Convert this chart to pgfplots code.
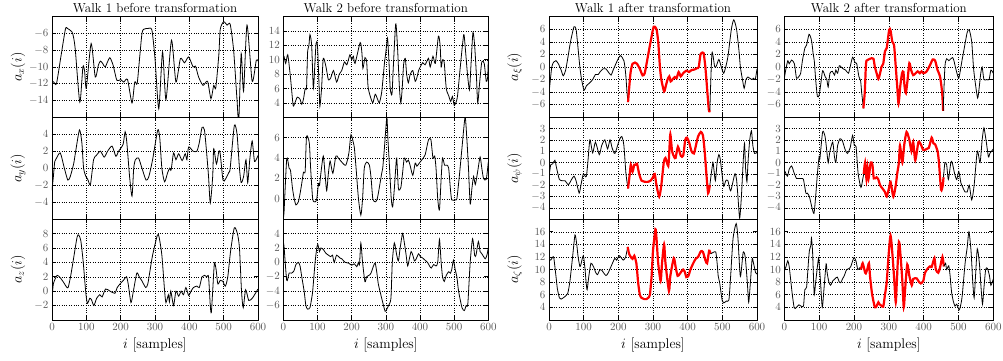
\documentclass[border=0pt]{standalone}
\usepackage{pgfplots}
\pgfplotsset{compat=1.18}
\pgfplotsset{
 panel/.style={scale only axis, xmin=0, xmax=600, xtick={0,100,...,600},
   grid=major, grid style={black, dotted, line width=0.5pt},
   tick align=inside, major tick length=4pt,
   axis line style={line width=0.7pt}, tick style={black, line width=0.6pt},
   tick label style={font=\fontsize{11}{13}\selectfont, color=black!65},
   every axis y label/.style={at={(axis description cs:-0.165,0.5)},rotate=90,anchor=center,font=\fontsize{14}{16}\selectfont},
   every axis x label/.style={at={(axis description cs:0.5,0)},yshift=-25pt,anchor=center,font=\fontsize{14}{16}\selectfont},
   every axis title/.style={at={(axis description cs:0.5,1)},anchor=base,yshift=4pt,font=\fontsize{13}{15}\selectfont},
   anchor=north west},
 bl/.style={black, line width=0.8pt, mark=none, smooth, tension=0.4},
 rd/.style={red, line width=2.2pt, mark=none, smooth, tension=0.4},
 r1/.style={height=100.5pt, xticklabels={}},
 r2/.style={height=102pt, xticklabels={}},
 r3/.style={height=100.7pt, xlabel={$i$ [samples]}},
}
\begin{document}
\begin{tikzpicture}
\path[use as bounding box] (0pt,0pt) rectangle (1003pt,-360pt);
% ---------------- Column 1 ----------------
\begin{axis}[panel, r1, at={(52pt,-16.7pt)}, width=206pt, ymin=-16, ymax=-4, ytick={-14,-12,...,-6},
  title={Walk 1 before transformation}, ylabel={$a_x(i)$}]
\addplot[bl] coordinates {(0,-11.7) (5,-11.8) (13,-12) (25,-9) (39,-5.5) (45,-5.4) (58,-5.8) (63,-6.5) (68,-8) (81,-14.2) (90,-10) (95,-10.5) (100,-12.5) (114,-7.2) (126,-11.2) (135,-9.8) (141,-9.3) (148,-9.6) (155,-10) (168,-8.9) (178,-9.8) (189,-11.6) (200,-11.5) (209,-11.8) (220,-11.5) (233,-14.3) (241,-11.8) (248,-12) (255,-9) (262,-6) (267,-5.5) (280,-5.4) (291,-5.6) (300,-9) (311,-15) (322,-8.2) (332,-13.9) (348,-6.8) (361,-11.8) (374,-9) (386,-9.5) (398,-8.8) (411,-10) (418,-9.9) (427,-11.2) (440,-12.2) (453,-11.7) (463,-13.8) (471,-12.2) (477,-12.5) (486,-8.5) (490,-5.5) (500,-4.6) (510,-5) (519,-4.9) (529,-8) (539,-14) (544,-16.5) (551,-8.4) (558,-12.9) (568,-5) (583,-11.7) (595,-9.2) (600,-9.3)};
\end{axis}
\begin{axis}[panel, r2, at={(52pt,-117.2pt)}, width=206pt, ymin=-6, ymax=6, ytick={-4,-2,...,4}, ylabel={$a_y(i)$}]
\addplot[bl] coordinates {(0,-2.6) (4,-1) (8,0.8) (12,1.1) (24,1.8) (36,0) (46,-1.4) (53,-1) (63,0.5) (69,2) (80,4.5) (87,3) (92,0) (99,-1) (104,-1.3) (112,-1.9) (121,1) (129,1.5) (141,2) (152,1.3) (162,2) (175,2.6) (186,1.4) (194,2) (207,2.8) (213,4.3) (218,3) (226,-1) (233,-3.3) (238,0) (243,1) (252,1.2) (262,0) (274,-1.4) (282,-1) (293,1) (308,4.5) (314,3.5) (320,0) (328,-1.6) (337,-0.5) (343,0) (347,-0.2) (354,1.8) (361,1) (369,1.7) (379,0.9) (388,1.7) (393,1) (398,2.5) (411,2) (422,2) (429,3) (437,4.8) (444,4.5) (450,2) (456,-1) (461,-4.1) (468,-1) (471,2.3) (479,0.5) (486,2) (490,1.7) (498,-1.4) (505,-1.3) (515,-0.5) (519,0) (531,5) (539,4) (546,0) (551,-1.7) (558,-1) (565,1) (570,-1.7) (576,1) (583,3.2) (590,0.8) (600,1.5)};
\end{axis}
\begin{axis}[panel, r3, at={(52pt,-219.2pt)}, width=206pt, ymin=-4, ymax=10, ytick={-2,0,...,8}, ylabel={$a_z(i)$}]
\addplot[bl] coordinates {(0,-1.2) (4,1) (15,2.2) (25,1.8) (34,1.2) (42,0.6) (47,0.5) (54,2) (61,4) (73,7.5) (78,7.8) (84,7) (91,4) (98,0) (103,-1.7) (110,-1) (115,-1.2) (122,-2) (130,-1) (139,-0.5) (146,-0.8) (156,0.3) (169,0) (183,-0.3) (190,0.5) (198,1) (208,1.5) (217,2) (222,1) (230,-1.6) (237,0) (247,2.5) (254,2) (261,1.5) (273,0.5) (279,1) (286,3) (293,5) (307,7.8) (312,7.5) (320,5) (328,0) (332,-1.6) (339,-0.5) (342,-1.5) (346,0) (354,-2) (361,0) (369,-0.7) (376,0) (383,-0.5) (390,0.5) (398,-0.6) (405,0) (412,0.5) (422,0.7) (429,0.5) (437,2) (444,2.2) (451,2) (456,2) (461,-2) (464,-3) (468,0) (473,3.9) (478,3) (483,1) (490,1.5) (497,1.4) (505,0.7) (512,2) (520,5.5) (531,8.8) (540,8) (546,6) (552,0) (557,-2.3) (564,0.2) (573,-1.3) (583,-1) (590,-0.5) (600,0.3)};
\end{axis}
% ---------------- Column 2 ----------------
\begin{axis}[panel, r1, at={(283.3pt,-16.7pt)}, width=205pt, ymin=2, ymax=16, ytick={4,6,...,14},
  title={Walk 2 before transformation}]
\addplot[bl] coordinates {(0,10.5) (2,10.5) (7,9.5) (13,10.7) (20,8) (24,6) (29,3.6) (34,4) (41,4.8) (49,4.5) (54,3.8) (59,4.5) (64,6) (68,6.1) (71,11) (75,12) (78,13.5) (83,12) (88,6) (93,10) (96,12.3) (100,12) (105,6) (107,3.5) (112,6) (117,10.2) (125,9) (132,7.2) (139,7.5) (147,8.5) (156,6.9) (164,8) (171,8.5) (179,9.7) (186,9.3) (195,10.7) (200,10) (205,10.5) (210,9.5) (225,12.4) (230,11) (233,8.8) (239,10.3) (244,9.7) (248,6.3) (254,5) (262,4) (269,5.2) (276,4.5) (281,4) (288,5.5) (296,9.5) (300,11) (305,13) (309,10) (313,6) (318,5.2) (322,9) (329,15) (334,12) (340,6) (344,4) (348,6) (352,9.3) (357,10.2) (361,8) (366,6.8) (371,7.9) (379,8.5) (386,7) (391,7.5) (396,8.5) (401,9) (408,9.6) (415,9.3) (425,10.2) (430,9) (438,10.5) (445,9.5) (454,13.3) (459,12) (462,9) (466,10) (471,9.6) (477,6) (484,5) (490,4.2) (495,4.9) (500,3.7) (505,4) (510,5) (518,9) (528,13.5) (532,12) (539,8) (545,5.8) (549,9) (555,13.8) (560,12) (565,8) (569,4) (575,7) (581,9.7) (588,9.5) (594,7) (598,7.5) (600,10)};
\end{axis}
\begin{axis}[panel, r2, at={(283.3pt,-117.2pt)}, width=205pt, ymin=-2, ymax=8, ytick={0,2,4,6}]
\addplot[bl] coordinates {(0,-1.4) (2,-1.4) (10,3.9) (17,3) (21,2.8) (27,1) (32,0) (37,-0.6) (44,-0.3) (49,0.5) (54,1.5) (59,2.6) (64,2.7) (68,6.1) (76,5.5) (80,3) (86,0) (93,-0.3) (98,0) (103,1.5) (106,1.3) (110,2.5) (117,4.2) (122,2.5) (127,0.8) (132,2.5) (137,3.7) (145,2.5) (154,4.2) (161,4) (171,3.6) (183,3.3) (192,4.5) (198,6.3) (205,5.5) (208,5) (213,3) (220,0) (227,-1.6) (232,0) (237,3) (244,3.6) (252,3.3) (257,2) (262,0) (269,-0.3) (274,-0.1) (278,0.5) (288,2.5) (291,3) (296,5) (303,8) (306,6) (311,3) (316,0) (320,-0.8) (325,1) (329,3) (332,4) (337,1) (344,1.1) (349,2.5) (354,4) (361,3.6) (366,3.8) (371,3.3) (379,2.3) (386,3.5) (391,3.2) (398,3.5) (405,3.8) (415,4.3) (425,5.8) (432,5.8) (438,4) (443,4.2) (447,3) (452,0) (457,-1.1) (462,2) (466,4) (472,3.3) (479,3.3) (484,3) (489,1) (493,-0.1) (503,-0.1) (508,0) (513,1.5) (516,2.5) (523,5) (532,8) (537,6) (542,3) (547,-0.5) (552,1) (557,2.2) (562,1.4) (569,2.7) (576,4.1) (581,3) (586,2) (594,1.9) (600,3.6)};
\end{axis}
\begin{axis}[panel, r3, at={(283.3pt,-219.2pt)}, width=205pt, ymin=-8, ymax=6, ytick={-6,-4,...,4}]
\addplot[bl] coordinates {(0,2.3) (2,2.3) (10,-2.5) (17,-1.5) (24,-1.5) (31,-1.2) (37,-0.3) (44,0) (49,-0.5) (54,-2) (61,-4) (66,-6) (71,-6.5) (78,-6.3) (83,-5) (86,-4) (93,0) (98,2) (101,2.5) (106,1.5) (110,2) (117,1.8) (124,1.3) (132,1) (139,0.8) (144,1) (149,0) (156,1) (166,0.6) (171,0.5) (181,0) (191,-0.1) (200,-0.4) (208,-0.2) (215,-0.6) (220,0) (223,-0.3) (227,2.7) (232,0) (239,-2.7) (244,-2) (254,-1.7) (259,-1.2) (264,-0.5) (269,-0.1) (274,-1.5) (278,-3) (283,-4) (288,-5) (298,-6.8) (303,-6.5) (308,-6) (315,-5) (319,0) (325,2.7) (332,1) (337,0.2) (342,2) (349,4) (354,2.8) (359,1.2) (364,-0.5) (369,0.5) (374,1.5) (379,1) (384,0.2) (389,0.5) (396,1.2) (401,0.8) (408,0.6) (415,0.3) (422,0) (428,-0.5) (433,-0.8) (440,-0.3) (447,-0.5) (452,0) (457,3.2) (462,0) (466,-2) (471,-2.65) (477,-1.8) (484,-1.3) (489,-1.5) (493,-1) (498,0.3) (503,-1) (508,-2) (513,-4) (523,-6.3) (530,-6.7) (535,-6) (540,-5.8) (547,0) (554,3.3) (560,1) (564,1) (571,2.9) (576,1.5) (581,1.2) (591,0.5) (596,1) (600,2)};
\end{axis}
% ---------------- Column 3 ----------------
\begin{axis}[panel, r1, at={(549pt,-16.7pt)}, width=208pt, ymin=-8, ymax=8, ytick={-6,-4,...,6},
  title={Walk 1 after transformation}, ylabel={$a_\xi(i)$}]
\addplot[bl] coordinates {(0,-3.6) (1,-3.6) (8,0) (14,0.8) (20,1) (27,0.5) (35,-0.5) (41,-1.4) (48,-0.5) (56,2) (62,4) (72,6.4) (78,6) (82,4) (89,0) (94,-2) (101,-3.7) (108,-3) (118,-2.5) (126,-2) (134,-1.2) (142,-1.2) (147,-0.8) (156,-0.3) (164,-0.3) (171,-0.8) (179,-1.3) (185,-0.5) (197,1) (206,1.8) (216,1) (221,-1) (225,-4) (228,-5.6)};
\addplot[rd] coordinates {(228,-5.6) (235,-1) (241,0.5) (248,0.7) (254,0.5) (262,-0.3) (270,-1.35) (276,-1) (283,1) (293,4) (302,6.4) (310,6) (315,4) (320,0) (324,-2) (332,-3.9) (337,-3) (342,-2) (347,-1.5) (351,-2.3) (356,-2) (363,-1.6) (368,-1.8) (374,-0.8) (380,-1.5) (387,-1) (396,-0.6) (404,-0.8) (411,-0.5) (420,-0.4) (427,-0.2) (432,0) (437,2) (443,2.3) (446,2.2) (449,1) (451,0) (454,-2) (461,-6.8) (464,-6.9)};
\addplot[bl] coordinates {(464,-6.9) (470,2.2) (478,0) (483,0.2) (490,1.2) (497,0) (504,-1) (512,0.5) (517,2) (526,6) (533,7.5) (541,6) (548,2.6) (552,0) (558,-2) (563,-3.4) (568,-2) (574,-1.6) (579,-1.8) (586,-2) (590,-1.8) (595,-2) (600,-0.3)};
\end{axis}
\begin{axis}[panel, r2, at={(549pt,-117.2pt)}, width=208pt, ymin=-5, ymax=4, ytick={-4,-3,...,3}, ylabel={$a_\psi(i)$}]
\addplot[bl] coordinates {(0,-1) (1,-1) (5,-0.2) (11,-0.1) (17,0.2) (22,-0.5) (30,-1.5) (39,-1.6) (46,-1.6) (56,-1.95) (65,-1.5) (72,-1.2) (78,-1.6) (87,-2.7) (92,-2) (99,-1) (104,-1.2) (108,-1.2) (112,0) (118,2) (126,0.85) (134,1.8) (145,0.7) (152,1.5) (161,2) (169,1.2) (176,2) (182,1.3) (190,0.8) (203,2) (210,2.3) (216,1.5) (222,-1) (228,-2.3)};
\addplot[rd] coordinates {(228,-2.3) (233,-1) (236,-0.2) (241,-0.8) (246,-0.2) (251,-0.2) (254,-0.1) (260,-1) (267,-1.6) (276,-1.7) (286,-1.7) (293,-1.6) (300,-1.3) (305,-1) (310,-2) (318,-3) (324,-2) (331,0) (336,0.4) (344,-0.3) (347,1) (350,2.5) (355,1) (361,0.5) (365,0.4) (372,1.4) (380,0.6) (387,0.6) (393,2) (398,2.2) (404,1.8) (411,1) (418,0.8) (423,1.4) (430,2.3) (438,2.7) (444,2.4) (449,1) (454,-1) (459,-2.7) (464,-2)};
\addplot[bl] coordinates {(464,-2) (468,-1) (473,0) (476,-0.7) (480,-1.6) (485,0) (490,0.7) (494,0.3) (499,-1) (504,-2.1) (510,-1.6) (516,-1.6) (524,-2.5) (536,-1) (541,-1.5) (545,-3) (550,-4.9) (555,-3) (560,0) (564,1.7) (567,-0.5) (571,-1.7) (574,0) (579,2) (584,2.8) (588,1.5) (593,0.8) (600,0.9)};
\end{axis}
\begin{axis}[panel, r3, at={(549pt,-219.2pt)}, width=208pt, ymin=2, ymax=18, ytick={4,6,...,16}, ylabel={$a_\zeta(i)$}]
\addplot[bl] coordinates {(0,11.6) (1,11.6) (5,11.5) (11,12) (14,11.8) (20,9) (24,7) (30,5.5) (35,5.3) (41,5.5) (48,5.8) (54,6.2) (60,8) (68,12) (75,15.5) (80,14) (84,12) (89,10.5) (92,10.8) (99,12.2) (104,10) (107,8) (110,6.8) (115,9) (121,11) (128,10.5) (135,9.5) (140,9.2) (147,10) (152,9.9) (164,9.05) (171,9.5) (183,11) (190,11.8) (195,11.5) (203,12.2) (214,11.5) (221,12) (227,13.6)};
\addplot[rd] coordinates {(227,13.6) (231,12.5) (236,12) (241,11.7) (246,12.2) (252,11) (257,8) (262,6) (267,5.5) (275,5.3) (281,5.3) (286,5.5) (291,6) (296,9) (300,13) (307,16.4) (310,15) (315,11) (322,8.2) (326,11) (332,14) (336,11) (346,6.6) (350,9) (360,11.8) (365,10.5) (371,9) (377,9.3) (382,9.7) (387,10) (392,9.6) (396,8.8) (402,9) (408,10) (416,11) (423,11.7) (430,12) (438,12.9) (444,12.8) (451,11.5) (456,11) (462,13) (466,12.5)};
\addplot[bl] coordinates {(466,12.5) (473,12.7) (481,12.8) (485,11) (488,9) (492,8) (497,6) (500,5) (504,4.7) (512,5) (519,5.2) (524,9) (531,15) (540,17.3) (545,15) (552,8.9) (560,12.7) (566,12) (572,8) (576,4.8) (581,8) (586,11.7) (590,11) (596,9.5) (600,9.3)};
\end{axis}
% ---------------- Column 4 ----------------
\begin{axis}[panel, r1, at={(784.3pt,-16.7pt)}, width=209pt, ymin=-8, ymax=8, ytick={-6,-4,...,6},
  title={Walk 2 after transformation}]
\addplot[bl] coordinates {(0,-1.8) (4,-0.5) (10,1) (14,0.5) (21,1.1) (29,0.5) (35,-1.8) (42,-1.5) (47,-1) (52,1) (59,3) (64,3.5) (71,5.2) (77,4.5) (80,3.5) (83,2) (86,1) (90,-2) (95,-4.7) (100,-4.5) (104,-3) (110,-0.6) (117,-1.5) (122,-2) (126,-3.2) (131,-1) (138,-0.7) (144,-1.3) (148,-0.5) (153,-1) (158,0.2) (163,0) (169,-0.3) (176,-0.5) (184,-1) (189,0) (196,1.55) (203,0.7) (208,0.5) (214,-1.5) (219,-2.2) (222,-4) (227,-6.6)};
\addplot[rd] coordinates {(227,-6.6) (231,-4) (234,0) (236,1) (242,1.2) (251,1.4) (256,1.3) (260,0) (265,-1) (270,-1.9) (275,-1) (279,0) (284,0.5) (289,2.5) (294,3) (301,5.9) (305,5.8) (310,4) (315,3.5) (320,0) (324,-3) (328,-5.85) (333,-3) (338,-1) (342,-0.8) (345,-3) (349,-4.15) (354,-2) (359,0.6) (364,-0.5) (370,-1.3) (377,-1) (383,-0.7) (389,-1) (394,-0.7) (399,-1) (407,-0.8) (413,-0.3) (420,0.5) (426,1.2) (433,1) (440,-0.5) (447,-1.5) (453,-4) (456,-7)};
\addplot[bl] coordinates {(456,-7) (461,0) (466,1.3) (472,1) (478,1.3) (483,1.5) (487,1) (491,0) (500,-1.8) (504,-1) (510,1) (516,2.8) (525,5.5) (531,5.9) (538,4) (543,0) (547,-2) (555,-4.95) (560,-3) (564,-1) (568,0) (573,-2) (581,-2) (588,-2) (593,-0.5) (600,-1)};
\end{axis}
\begin{axis}[panel, r2, at={(784.3pt,-117.2pt)}, width=209pt, ymin=-5, ymax=4, ytick={-4,-3,...,3}]
\addplot[bl] coordinates {(0,-0.8) (2,-0.8) (9,-1.2) (14,-0.6) (21,-0.3) (28,-0.9) (35,-1.4) (42,-1.4) (50,-1.4) (55,-1.5) (62,-2.7) (66,-2.7) (72,-3) (78,-3.8) (85,-4.5) (90,-3) (95,-1) (100,0.55) (102,0.3) (110,2.7) (117,2.3) (122,1) (126,0) (131,1) (139,1.8) (144,0.5) (148,0) (153,1.5) (160,2.1) (167,1.9) (174,1.2) (181,0.8) (189,1.3) (196,2.4) (201,1.5) (206,1.4) (212,-1) (220,-2.2) (225,-1.5) (228,-1)};
\addplot[rd] coordinates {(228,-1) (232,0) (236,-1.5) (239,-0.5) (242,-1.4) (248,0) (253,-0.2) (257,-1.4) (265,-1.3) (270,-1.5) (275,-2) (282,-2.3) (289,-2.6) (294,-3) (301,-2.2) (305,-1.7) (313,-3) (320,-2) (324,-1) (329,0) (332,1.5) (339,0) (344,1.5) (351,2.7) (359,2) (365,1) (370,1.8) (376,0.2) (385,1.8) (392,1.6) (399,1.1) (409,1.2) (415,1.3) (423,2.2) (428,1.7) (433,1.6) (440,1) (444,0) (450,-2.4) (455,-2) (457,-1.3)};
\addplot[bl] coordinates {(457,-1.3) (461,0) (466,-0.2) (471,-1.5) (478,0) (482,0) (489,-1) (495,-1.5) (501,-0.8) (507,-1.8) (514,-2.3) (519,-2.6) (525,-2.6) (531,-2) (538,-3.3) (545,-2) (554,1) (562,0) (568,2) (573,3.05) (579,2) (586,0.5) (590,0.8) (600,1.2)};
\end{axis}
\begin{axis}[panel, r3, at={(784.3pt,-219.2pt)}, width=209pt, ymin=2, ymax=18, ytick={4,6,...,16}]
\addplot[bl] coordinates {(0,9.9) (1,9.9) (5,10.5) (10,11.4) (14,10.5) (19,8) (23,6) (28,4) (31,3.8) (35,4) (42,4.4) (48,4.2) (55,4.2) (59,6.8) (64,7.2) (69,11) (72,13) (76,13.8) (78,15) (81,13) (83,10) (86,6) (90,8) (98,11.8) (100,11) (104,8) (109,4) (114,7) (120,10.9) (123,9.5) (128,8) (133,7.5) (139,8.2) (145,8.5) (152,8.8) (158,8) (162,7.9) (167,8.5) (172,9) (179,10) (187,10.2) (191,10.5) (200,11.9) (206,11.3) (211,10) (217,10.3) (220,10)};
\addplot[rd] coordinates {(220,10) (225,11) (232,9.5) (234,9.4) (238,10) (243,11) (246,9) (251,6.5) (254,5.5) (260,4) (265,4.2) (270,4.8) (273,4.5) (278,4.3) (284,4.1) (289,6) (294,8) (299,12) (305,15.4) (311,12) (316,8) (320,4.8) (323,8) (329,14.4) (334,12) (339,8) (343,4) (347,7) (353,10.8) (359,9) (366,7.5) (370,8.5) (380,8.6) (387,8) (392,7.8) (399,8.2) (404,9.5) (412,10.2) (418,10.5) (423,10.4) (431,11.8) (435,10) (442,9.5) (447,10.3) (454,12) (458,10.5)};
\addplot[bl] coordinates {(458,10.5) (463,11) (466,10) (472,10.6) (476,9) (480,6.5) (485,5) (490,4.2) (495,4.5) (502,3.6) (507,4.5) (511,6) (519,11) (525,13.5) (530,16) (536,13) (541,8) (545,5.5) (549,9) (554,13.3) (560,11) (565,7) (569,4.5) (573,7) (578,10) (583,10.2) (589,9) (593,7.5) (600,8.5)};
\end{axis}
\end{tikzpicture}
\end{document}
